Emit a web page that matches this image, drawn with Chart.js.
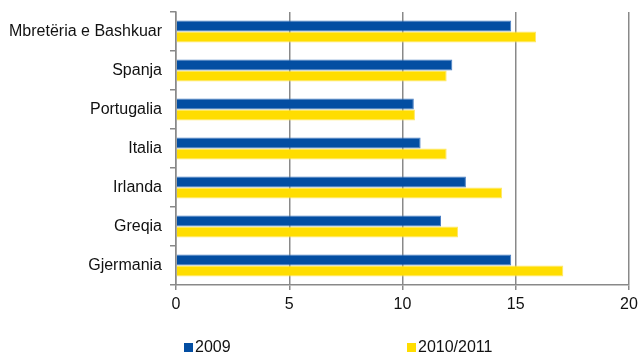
<!DOCTYPE html>
<html>
<head>
<meta charset="utf-8">
<script src="https://cdn.jsdelivr.net/npm/chart.js@4/dist/chart.umd.min.js"></script>
<style>
    html, body { margin: 0; padding: 0; background: #ffffff; }
    #wrap { width: 638px; height: 354px; position: relative; }
</style>
</head>
<body>
<div id="wrap"><canvas id="chart" width="638" height="354"></canvas></div>
<script>
    'use strict';

    // Chart data
    var categories = ['Mbretëria e Bashkuar', 'Spanja', 'Portugalia', 'Italia', 'Irlanda', 'Greqia', 'Gjermania'];
    var seriesNames = ['2009', '2010/2011'];
    var values2009 = [14.8, 12.2, 10.5, 10.8, 12.8, 11.7, 14.8];
    var values2010 = [15.9, 11.95, 10.55, 11.95, 14.4, 12.45, 17.1];
    var xTicks = [0, 5, 10, 15, 20];

    var FONT = '"Liberation Sans", Arial, sans-serif';
    var GRID = '#898989';

    // Simple legend drawn under the chart, one fixed slot per entry
    var bottomLegend = {
        id: 'bottomLegend',
        afterDraw: function(chart) {
            var ctx = chart.ctx;
            var left = 184;
            var slot = 223;
            var y = 347.5;
            ctx.save();
            ctx.font = '16px ' + FONT;
            ctx.textBaseline = 'middle';
            ctx.textAlign = 'left';
            chart.data.datasets.forEach(function(ds, i) {
                var x = left + i * slot;
                ctx.fillStyle = ds.backgroundColor;
                ctx.fillRect(x, y - 4.5, 9, 9);
                ctx.fillStyle = '#111111';
                ctx.fillText(ds.label, x + 11, y + 0.5);
            });
            ctx.restore();
        }
    };

    new Chart(document.getElementById('chart').getContext('2d'), {
        type: 'bar',
        data: {
            labels: categories,
            datasets: [{
                label: seriesNames[0],
                data: values2009,
                backgroundColor: '#034EA2',
                borderColor: '#4A7FC4',
                borderWidth: 1,
                barPercentage: 1,
                categoryPercentage: 0.57
            }, {
                label: seriesNames[1],
                data: values2010,
                backgroundColor: '#FFDD00',
                borderColor: '#FFE766',
                borderWidth: 1,
                barPercentage: 1,
                categoryPercentage: 0.57
            }]
        },
        options: {
            indexAxis: 'y',
            responsive: false,
            animation: false,
            layout: {
                padding: { left: 9, right: 9, top: 12, bottom: 0 }
            },
            plugins: {
                legend: { display: false },
                tooltip: { enabled: false }
            },
            scales: {
                x: {
                    min: xTicks[0],
                    max: xTicks[xTicks.length - 1],
                    afterBuildTicks: function(scale) {
                        scale.ticks = xTicks.map(function(v) { return { value: v }; });
                    },
                    afterFit: function(scale) {
                        scale.height = 69;
                        scale.paddingLeft = 0;
                        scale.paddingRight = 0;
                    },
                    grid: {
                        color: GRID,
                        lineWidth: 1.5,
                        tickLength: 5,
                        drawTicks: true
                    },
                    border: { color: GRID, width: 1.5 },
                    ticks: {
                        padding: 5,
                        color: '#111111',
                        font: { family: FONT, size: 16 }
                    }
                },
                y: {
                    afterFit: function(scale) {
                        scale.width = 167;
                        scale.paddingTop = 0;
                        scale.paddingBottom = 0;
                    },
                    grid: {
                        offset: true,
                        drawOnChartArea: false,
                        color: GRID,
                        lineWidth: 1.5,
                        tickLength: 6
                    },
                    border: { color: GRID, width: 1.5 },
                    ticks: {
                        padding: 8,
                        color: '#111111',
                        font: { family: FONT, size: 16 }
                    }
                }
            }
        },
        plugins: [bottomLegend]
    });
</script>
</body>
</html>
